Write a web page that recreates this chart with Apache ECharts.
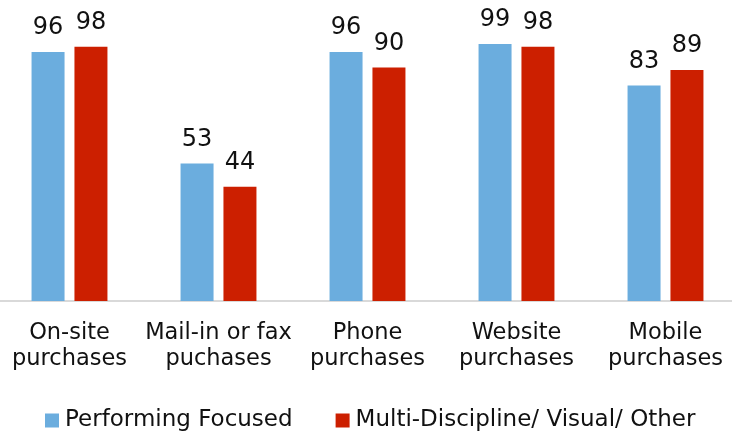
<!DOCTYPE html>
<html>
<head>
<meta charset="utf-8">
<script src="https://cdn.jsdelivr.net/npm/echarts@6/dist/echarts.min.js"></script>
<style>
  html, body { margin: 0; padding: 0; background: #fff; overflow: hidden; }
  body { width: 732px; height: 434px; }
  #chart { width: 745px; height: 434px; margin-left: -5px; }
</style>
</head>
<body>
<div id="chart"></div>
<script>
const categories = ['On-site\npurchases', 'Mail-in or fax\npuchases', 'Phone\npurchases', 'Website\npurchases', 'Mobile\npurchases']
const performingFocused = [96, 53, 96, 99, 83]
const multiDiscipline = [98, 44, 90, 98, 89]

const chart = echarts.init(document.getElementById('chart'))
const font = 'DejaVu Sans'

chart.setOption({
  animation: false,
  textStyle: { fontFamily: font },
  grid: { left: 0, right: 0, top: 41.5, bottom: 133 },
  legend: {
    bottom: -3,
    left: 45,
    itemWidth: 14,
    itemHeight: 14,
    itemGap: 43,
    icon: 'rect',
    textStyle: { fontSize: 23, color: '#111', fontFamily: font, padding: [0, 0, 0, 1] },
    data: ['Performing Focused', 'Multi-Discipline/ Visual/ Other']
  },
  xAxis: {
    type: 'category',
    data: categories,
    axisLine: { lineStyle: { color: '#d9d9d9', width: 2 } },
    axisTick: { show: false },
    axisLabel: { fontSize: 22.5, lineHeight: 26, color: '#111', margin: 19, interval: 0 }
  },
  yAxis: {
    type: 'value',
    min: 0,
    max: 100,
    show: false
  },
  series: [
    {
      name: 'Performing Focused',
      type: 'bar',
      data: performingFocused,
      barWidth: 33,
      barGap: '30%',
      itemStyle: { color: '#6badde' },
      label: { show: true, position: 'top', distance: 12, fontSize: 24, color: '#111' }
    },
    {
      name: 'Multi-Discipline/ Visual/ Other',
      type: 'bar',
      data: multiDiscipline,
      barWidth: 33,
      itemStyle: { color: '#cc1f00' },
      label: { show: true, position: 'top', distance: 12, fontSize: 24, color: '#111' }
    }
  ]
})
</script>
</body>
</html>
